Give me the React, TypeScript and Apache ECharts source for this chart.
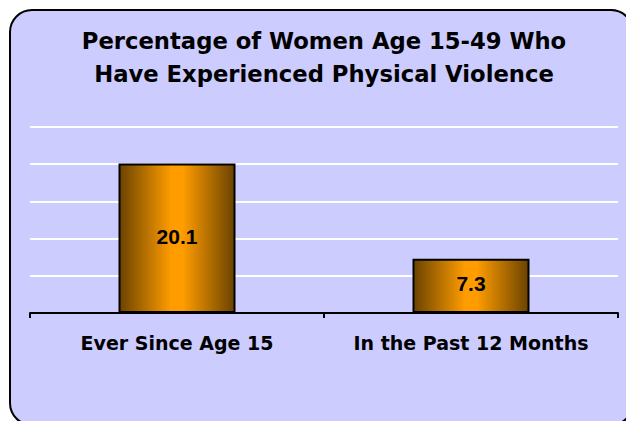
import React, { useEffect, useRef } from "react";
import * as echarts from "echarts";

const categories = ["Ever Since Age 15", "In the Past 12 Months"];
const values = [20.1, 7.3];
const titleLines = ["Percentage of Women Age 15-49 Who", "Have Experienced Physical Violence"];

export default function App() {
  const ref = useRef<HTMLDivElement>(null);
  useEffect(() => {
    if (!ref.current) return;
    const chart = echarts.init(ref.current, undefined, { renderer: "svg" });
    const barGradient = new echarts.graphic.LinearGradient(0, 0, 1, 0, [
      { offset: 0, color: "#6a4300" },
      { offset: 0.45, color: "#ff9c00" },
      { offset: 0.55, color: "#ff9c00" },
      { offset: 1, color: "#6a4300" },
    ]);
    chart.setOption({
      animation: false,
      backgroundColor: "#ffffff",
      graphic: [
        {
          type: "rect",
          z: -10,
          silent: true,
          shape: { x: 10, y: 10, width: 623, height: 415, r: 22 },
          style: { fill: "#ccccff", stroke: "#000000", lineWidth: 2 },
        },
        {
          type: "text",
          x: 324,
          y: 24,
          style: {
            text: titleLines.join("\n"),
            fontFamily: "DejaVu Sans",
            fontWeight: "bold",
            fontSize: 22.7,
            lineHeight: 33,
            fill: "#000000",
            align: "center",
            verticalAlign: "top",
          },
        },
      ],
      grid: { left: 30, right: 8, top: 127, bottom: 108, containLabel: false },
      xAxis: {
        type: "category",
        data: categories,
        axisLine: { show: true, lineStyle: { color: "#000000", width: 2 } },
        axisTick: { show: true, interval: 0, alignWithLabel: false, length: 5, lineStyle: { color: "#000000", width: 2 } },
        axisLabel: {
          interval: 0,
          color: "#000000",
          fontFamily: "DejaVu Sans",
          fontWeight: "bold",
          fontSize: 19,
          margin: 20,
        },
      },
      yAxis: {
        type: "value",
        min: 0,
        max: 25,
        interval: 5,
        axisLine: { show: false },
        axisTick: { show: false },
        axisLabel: { show: false },
        splitLine: { show: true, lineStyle: { color: "#ffffff", width: 2 } },
      },
      series: [
        {
          type: "bar",
          data: values,
          barWidth: 117,
          itemStyle: { color: barGradient, borderColor: "#000000", borderWidth: 2 },
          label: {
            show: true,
            position: "inside",
            offset: [0, -2],
            color: "#000000",
            fontFamily: "Liberation Sans",
            fontWeight: "bold",
            fontSize: 21,
            formatter: (p: any) => p.value.toFixed(1),
          },
        },
      ],
    });
    return () => chart.dispose();
  }, []);
  return (
    <div
      ref={ref}
      style={{ position: "absolute", left: 0, top: 0, width: 626, height: 421 }}
    />
  );
}
